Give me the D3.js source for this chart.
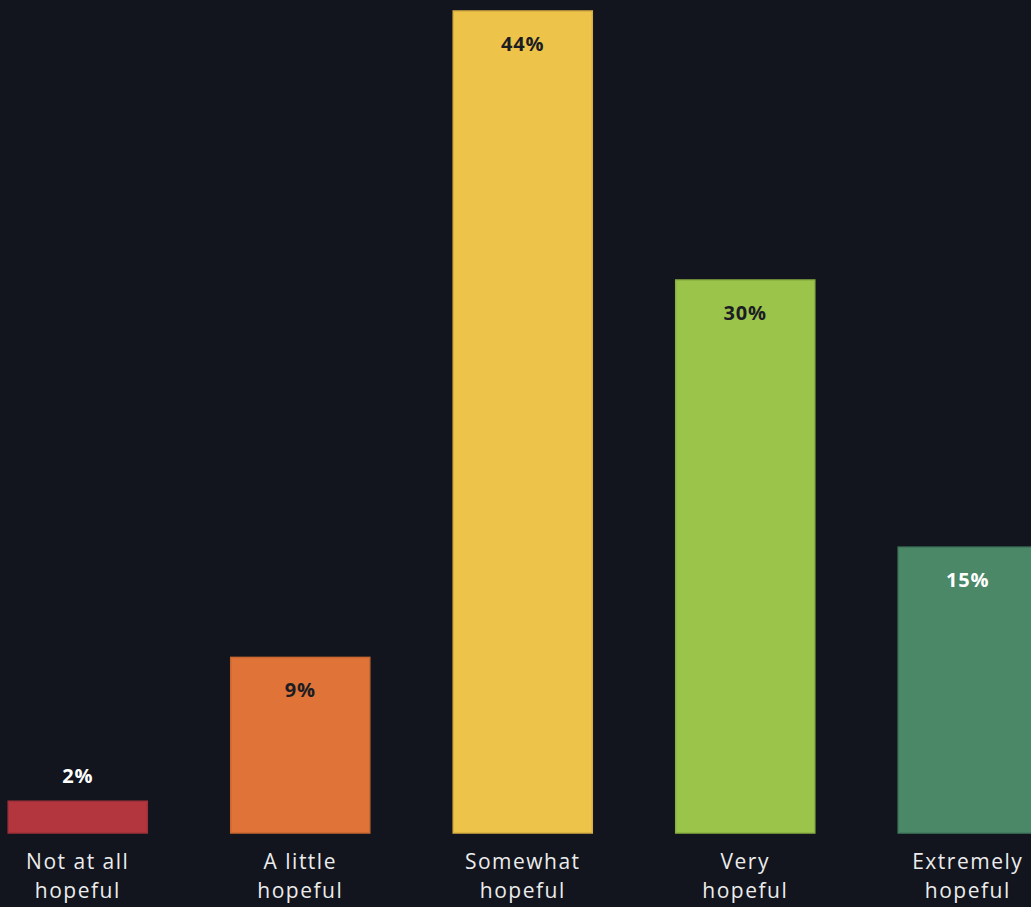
<!DOCTYPE html>
<html>
<head>
<meta charset="utf-8">
<script src="https://cdn.jsdelivr.net/npm/d3@7"></script>
<style>
  html, body { margin: 0; padding: 0; background: #12151e; overflow: hidden; }
  svg { display: block; }
  .cat { fill: #ececec; font-family: "Open Sans", sans-serif; font-size: 21px; letter-spacing: 1.5px; }
  .val { font-family: "Open Sans", sans-serif; font-size: 20px; font-weight: 700; letter-spacing: 0.8px; }
</style>
</head>
<body>
<svg id="chart"></svg>
<script>
// categories and values (percent of respondents)
var categories = ["Not at all hopeful", "A little hopeful", "Somewhat hopeful", "Very hopeful", "Extremely hopeful"]
var labelLines = [["Not at all", "hopeful"], ["A little", "hopeful"], ["Somewhat", "hopeful"], ["Very", "hopeful"], ["Extremely", "hopeful"]]
var values = [1.7, 9.4, 44, 29.6, 15.3]
var colors = ["#b3363f", "#e07337", "#eec34a", "#9bc44a", "#4a8868"]
var textColors = ["#ffffff", "#1b1d22", "#1b1d22", "#1b1d22", "#ffffff"]

var width = 1031,
    height = 907,
    margin = { top: 11, bottom: 74 }

var svg = d3.select("#chart")
    .attr("width", width)
    .attr("height", height)

// band scale reaches past the right edge, last bar gets clipped like the original
var x = d3.scaleBand()
    .domain(categories)
    .range([-33.5, 1079])
    .paddingInner(0.375)
    .paddingOuter(0.1875)

var y = d3.scaleLinear()
    .domain([0, 44])
    .range([height - margin.bottom, margin.top])

var g = svg.append("g")

// bars
g.selectAll("rect.bar")
    .data(categories)
    .enter().append("rect")
    .attr("class", "bar")
    .attr("x", function(d) { return x(d) })
    .attr("y", function(d, i) { return y(values[i]) })
    .attr("width", x.bandwidth())
    .attr("height", function(d, i) { return y(0) - y(values[i]) })
    .attr("fill", function(d, i) { return colors[i] })
    .attr("stroke", function(d, i) { return d3.color(colors[i]).darker(0.3) })
    .attr("stroke-width", 1.5)

// value labels: inside the bar, or above it if the bar is too short
g.selectAll("text.val")
    .data(categories)
    .enter().append("text")
    .attr("class", "val")
    .attr("text-anchor", "middle")
    .attr("x", function(d) { return x(d) + x.bandwidth() / 2 })
    .attr("y", function(d, i) {
        var top = y(values[i])
        return (y(0) - top) < 60 ? top - 18 : top + 40
    })
    .attr("fill", function(d, i) { return textColors[i] })
    .text(function(d, i) { return Math.round(values[i]) + "%" })

// category labels (two lines)
var cats = g.selectAll("text.cat")
    .data(categories)
    .enter().append("text")
    .attr("class", "cat")
    .attr("text-anchor", "middle")
    .attr("x", function(d) { return x(d) + x.bandwidth() / 2 })
    .attr("y", y(0) + 36)

cats.selectAll("tspan")
    .data(function(d, i) { return labelLines[i] })
    .enter().append("tspan")
    .attr("x", function() { return d3.select(this.parentNode).attr("x") })
    .attr("dy", function(d, j) { return j == 0 ? 0 : 29 })
    .text(function(d) { return d })
</script>
</body>
</html>
